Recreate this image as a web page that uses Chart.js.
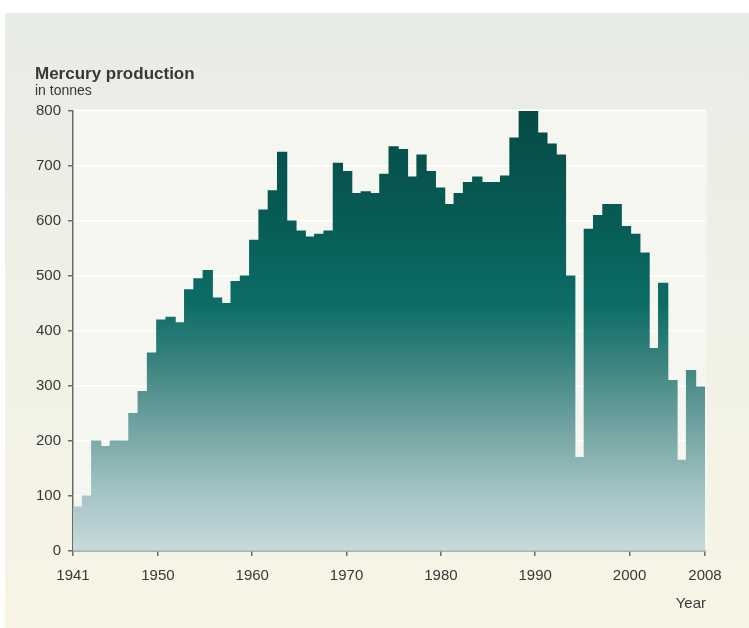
<!DOCTYPE html>
<html>
<head>
<meta charset="utf-8">
<script src="https://cdn.jsdelivr.net/npm/chart.js@4.4.1/dist/chart.umd.min.js"></script>
<style>
  body { margin: 0; background: #fff; }
  #wrap { position: relative; width: 749px; height: 628px; overflow: hidden; }
  #panel { position: absolute; left: 5px; top: 13px; right: 0; bottom: 0;
    background: linear-gradient(#e8ece6, #edefe6 30%, #f8f5e6); }
  canvas { position: absolute; left: 0; top: 0; }
</style>
</head>
<body>
<div id="wrap"><div id="panel"></div><canvas id="chart" width="749" height="628"></canvas></div>
<script>
// one bar per year
var years = [];
for (var yr = 1941; yr <= 2008; yr++) years.push(yr);

// tonnes
var production = [
  80, 100, 200, 190, 200, 200, 250, 290, 360, 420,
  425, 415, 475, 495, 510, 460, 450, 490, 500, 565,
  620, 655, 725, 600, 582, 571, 576, 582, 705, 690,
  650, 653, 650, 685, 735, 730, 680, 720, 690, 660,
  630, 650, 670, 680, 670, 670, 682, 751, 800, 800,
  760, 740, 720, 500, 170, 585, 610, 630, 630, 590,
  576, 542, 368, 487, 310, 165, 328, 298
];

var yearTicks = [1941, 1950, 1960, 1970, 1980, 1990, 2000, 2008];
var yMax = 800;

var textColor = "#383838";
var axisColor = "#6b6b6b";
var fontFamily = "'Liberation Sans', Arial, sans-serif";

var barGradient = null;
function barFill(context) {
  var chart = context.chart;
  if (!chart.chartArea) return "#0b6b64";
  if (barGradient) return barGradient;
  var ys = chart.scales.y;
  var g = chart.ctx.createLinearGradient(0, ys.getPixelForValue(0), 0, ys.getPixelForValue(yMax));
  g.addColorStop(0, "#c7dbde");
  g.addColorStop(0.15, "#9fc0c1");
  g.addColorStop(0.3, "#6b9f9d");
  g.addColorStop(0.45, "#327f7a");
  g.addColorStop(0.56, "#0c6d66");
  g.addColorStop(0.75, "#075c55");
  g.addColorStop(1, "#064b45");
  barGradient = g;
  return g;
}

var backdrop = {
  id: "backdrop",
  beforeDraw: function (chart) {
    var a = chart.chartArea, ctx = chart.ctx;
    ctx.save();
    ctx.fillStyle = "#f6f6f1";
    ctx.fillRect(a.left, a.top - 2, a.right - a.left + 2, a.bottom - a.top + 2);
    ctx.restore();
  },
  afterDraw: function (chart) {
    var ctx = chart.ctx;
    ctx.save();
    ctx.fillStyle = textColor;
    ctx.textBaseline = "alphabetic";
    ctx.textAlign = "left";
    ctx.font = "bold 17px " + fontFamily;
    ctx.fillText("Mercury production", 35, 79);
    ctx.font = "14px " + fontFamily;
    ctx.fillText("in tonnes", 35, 95);
    ctx.textAlign = "right";
    ctx.font = "15px " + fontFamily;
    ctx.fillText("Year", 706, 608);
    ctx.restore();
  }
};

new Chart(document.getElementById("chart").getContext("2d"), {
  type: "bar",
  data: {
    labels: years,
    datasets: [
      {
        label: "Mercury production",
        data: production,
        backgroundColor: barFill,
        borderWidth: 0,
        inflateAmount: 0.5,
        barPercentage: 1,
        categoryPercentage: 1
      }
    ]
  },
  plugins: [backdrop],
  options: {
    responsive: false,
    animation: false,
    layout: { padding: { left: 0, right: 44, top: 111, bottom: 0 } },
    plugins: { legend: { display: false }, tooltip: { enabled: false } },
    scales: {
      x: { display: false },
      year: {
        type: "linear",
        position: "bottom",
        min: 1941,
        max: 2008,
        offset: false,
        afterBuildTicks: function (scale) {
          scale.ticks = yearTicks.map(function (v) { return { value: v }; });
        },
        afterFit: function (scale) { scale.height = 77; },
        border: { color: axisColor, width: 1.5 },
        grid: { offset: false, drawOnChartArea: false, tickLength: 5, tickColor: axisColor, lineWidth: 1.5 },
        ticks: {
          color: textColor,
          padding: 11,
          maxRotation: 0,
          autoSkip: false,
          font: { family: fontFamily, size: 15 },
          callback: function (v) { return String(v); }
        }
      },
      y: {
        min: 0,
        max: yMax,
        afterFit: function (scale) { scale.width = 73; },
        border: { color: axisColor, width: 1.5 },
        grid: { color: "#ffffff", lineWidth: 1.5, tickLength: 5, tickColor: axisColor },
        ticks: {
          stepSize: 100,
          color: textColor,
          padding: 7,
          font: { family: fontFamily, size: 15 }
        }
      }
    }
  }
});
</script>
</body>
</html>
